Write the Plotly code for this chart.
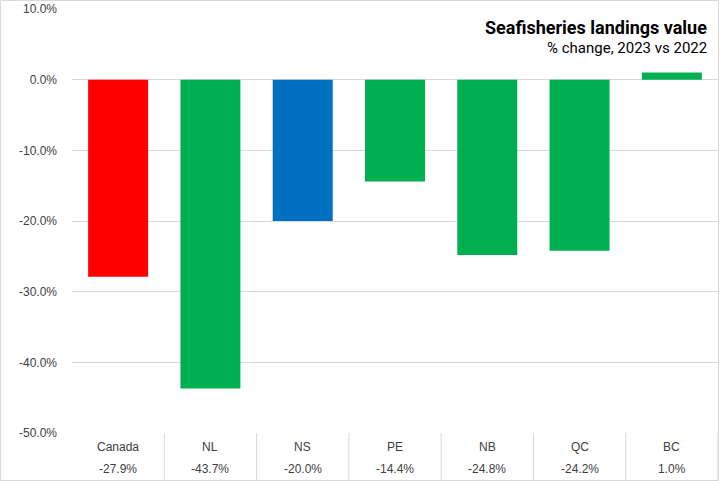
import plotly.graph_objects as go

categories = ["Canada", "NL", "NS", "PE", "NB", "QC", "BC"]
values = [-27.9, -43.7, -20.0, -14.4, -24.8, -24.2, 1.0]
colors = ["#FF0000", "#00B050", "#0070C0", "#00B050", "#00B050", "#00B050", "#00B050"]
y_ticks = [10, 0, -10, -20, -30, -40, -50]

W, H = 720, 481
ML, MR, MT, MB = 72, 2, 9, 48
pw, ph = W - ML - MR, H - MT - MB

fig = go.Figure()
fig.add_trace(go.Bar(x=categories, y=values, marker=dict(color=colors, line=dict(width=0)),
                     hoverinfo="skip"))

font_family = "Liberation Sans, Arial, sans-serif"
annotations = []
for c, v in zip(categories, values):
    annotations.append(dict(x=c, y=0, xref="x", yref="paper", yshift=-14, text=c,
                            showarrow=False, yanchor="middle",
                            font=dict(size=12, color="#404040", family=font_family)))
    annotations.append(dict(x=c, y=0, xref="x", yref="paper", yshift=-36, text=f"{v:.1f}%",
                            showarrow=False, yanchor="middle",
                            font=dict(size=12, color="#404040", family=font_family)))
annotations.append(dict(x=1, y=1, xref="paper", yref="paper", xanchor="right", yanchor="middle",
                        xshift=-9, yshift=-18, showarrow=False,
                        text="<b>Seafisheries landings value</b>",
                        font=dict(size=18, color="#000000", family="Roboto, sans-serif")))
annotations.append(dict(x=1, y=1, xref="paper", yref="paper", xanchor="right", yanchor="middle",
                        xshift=-9, yshift=-39, showarrow=False,
                        text="% change, 2023 vs 2022",
                        font=dict(size=15, color="#000000", family="Roboto, sans-serif")))

# outer chart border in paper coords
x0 = -ML / pw + 0.5 / pw
x1 = 1 + (MR - 1.5) / pw
y0 = -MB / ph + 0.5 / ph
y1 = 1 + (MT - 0.5) / ph
shapes = [dict(type="rect", xref="paper", yref="paper", x0=x0, x1=x1, y0=y0, y1=y1,
               line=dict(color="#D9D9D9", width=1), layer="below")]
# category separators in the table below the plot
for i in range(len(categories)):
    shapes.append(dict(type="line", xref="x", yref="paper", x0=i + 0.5, x1=i + 0.5,
                       y0=y0, y1=0, line=dict(color="#D9D9D9", width=1), layer="below"))

fig.update_layout(
    width=W, height=H,
    margin=dict(l=ML, r=MR, t=MT, b=MB, pad=0),
    paper_bgcolor="white", plot_bgcolor="white",
    bargap=0.35,
    showlegend=False,
    annotations=annotations,
    shapes=shapes,
    xaxis=dict(showticklabels=False, ticks="", showgrid=False, showline=False,
               zeroline=False, fixedrange=True, range=[-0.5, len(categories) - 0.5]),
    yaxis=dict(range=[-50, 10], tickvals=y_ticks, ticktext=[f"{t:.1f}%" for t in y_ticks],
               showgrid=True, gridcolor="#D9D9D9", gridwidth=1, zeroline=False,
               showline=False, ticks="", ticklabelstandoff=14,
               tickfont=dict(size=12, color="#404040", family=font_family), fixedrange=True),
)

fig.write_html("out.html", config={"displayModeBar": False},
               post_script="document.body.style.margin='0';document.body.style.overflow='hidden';")
